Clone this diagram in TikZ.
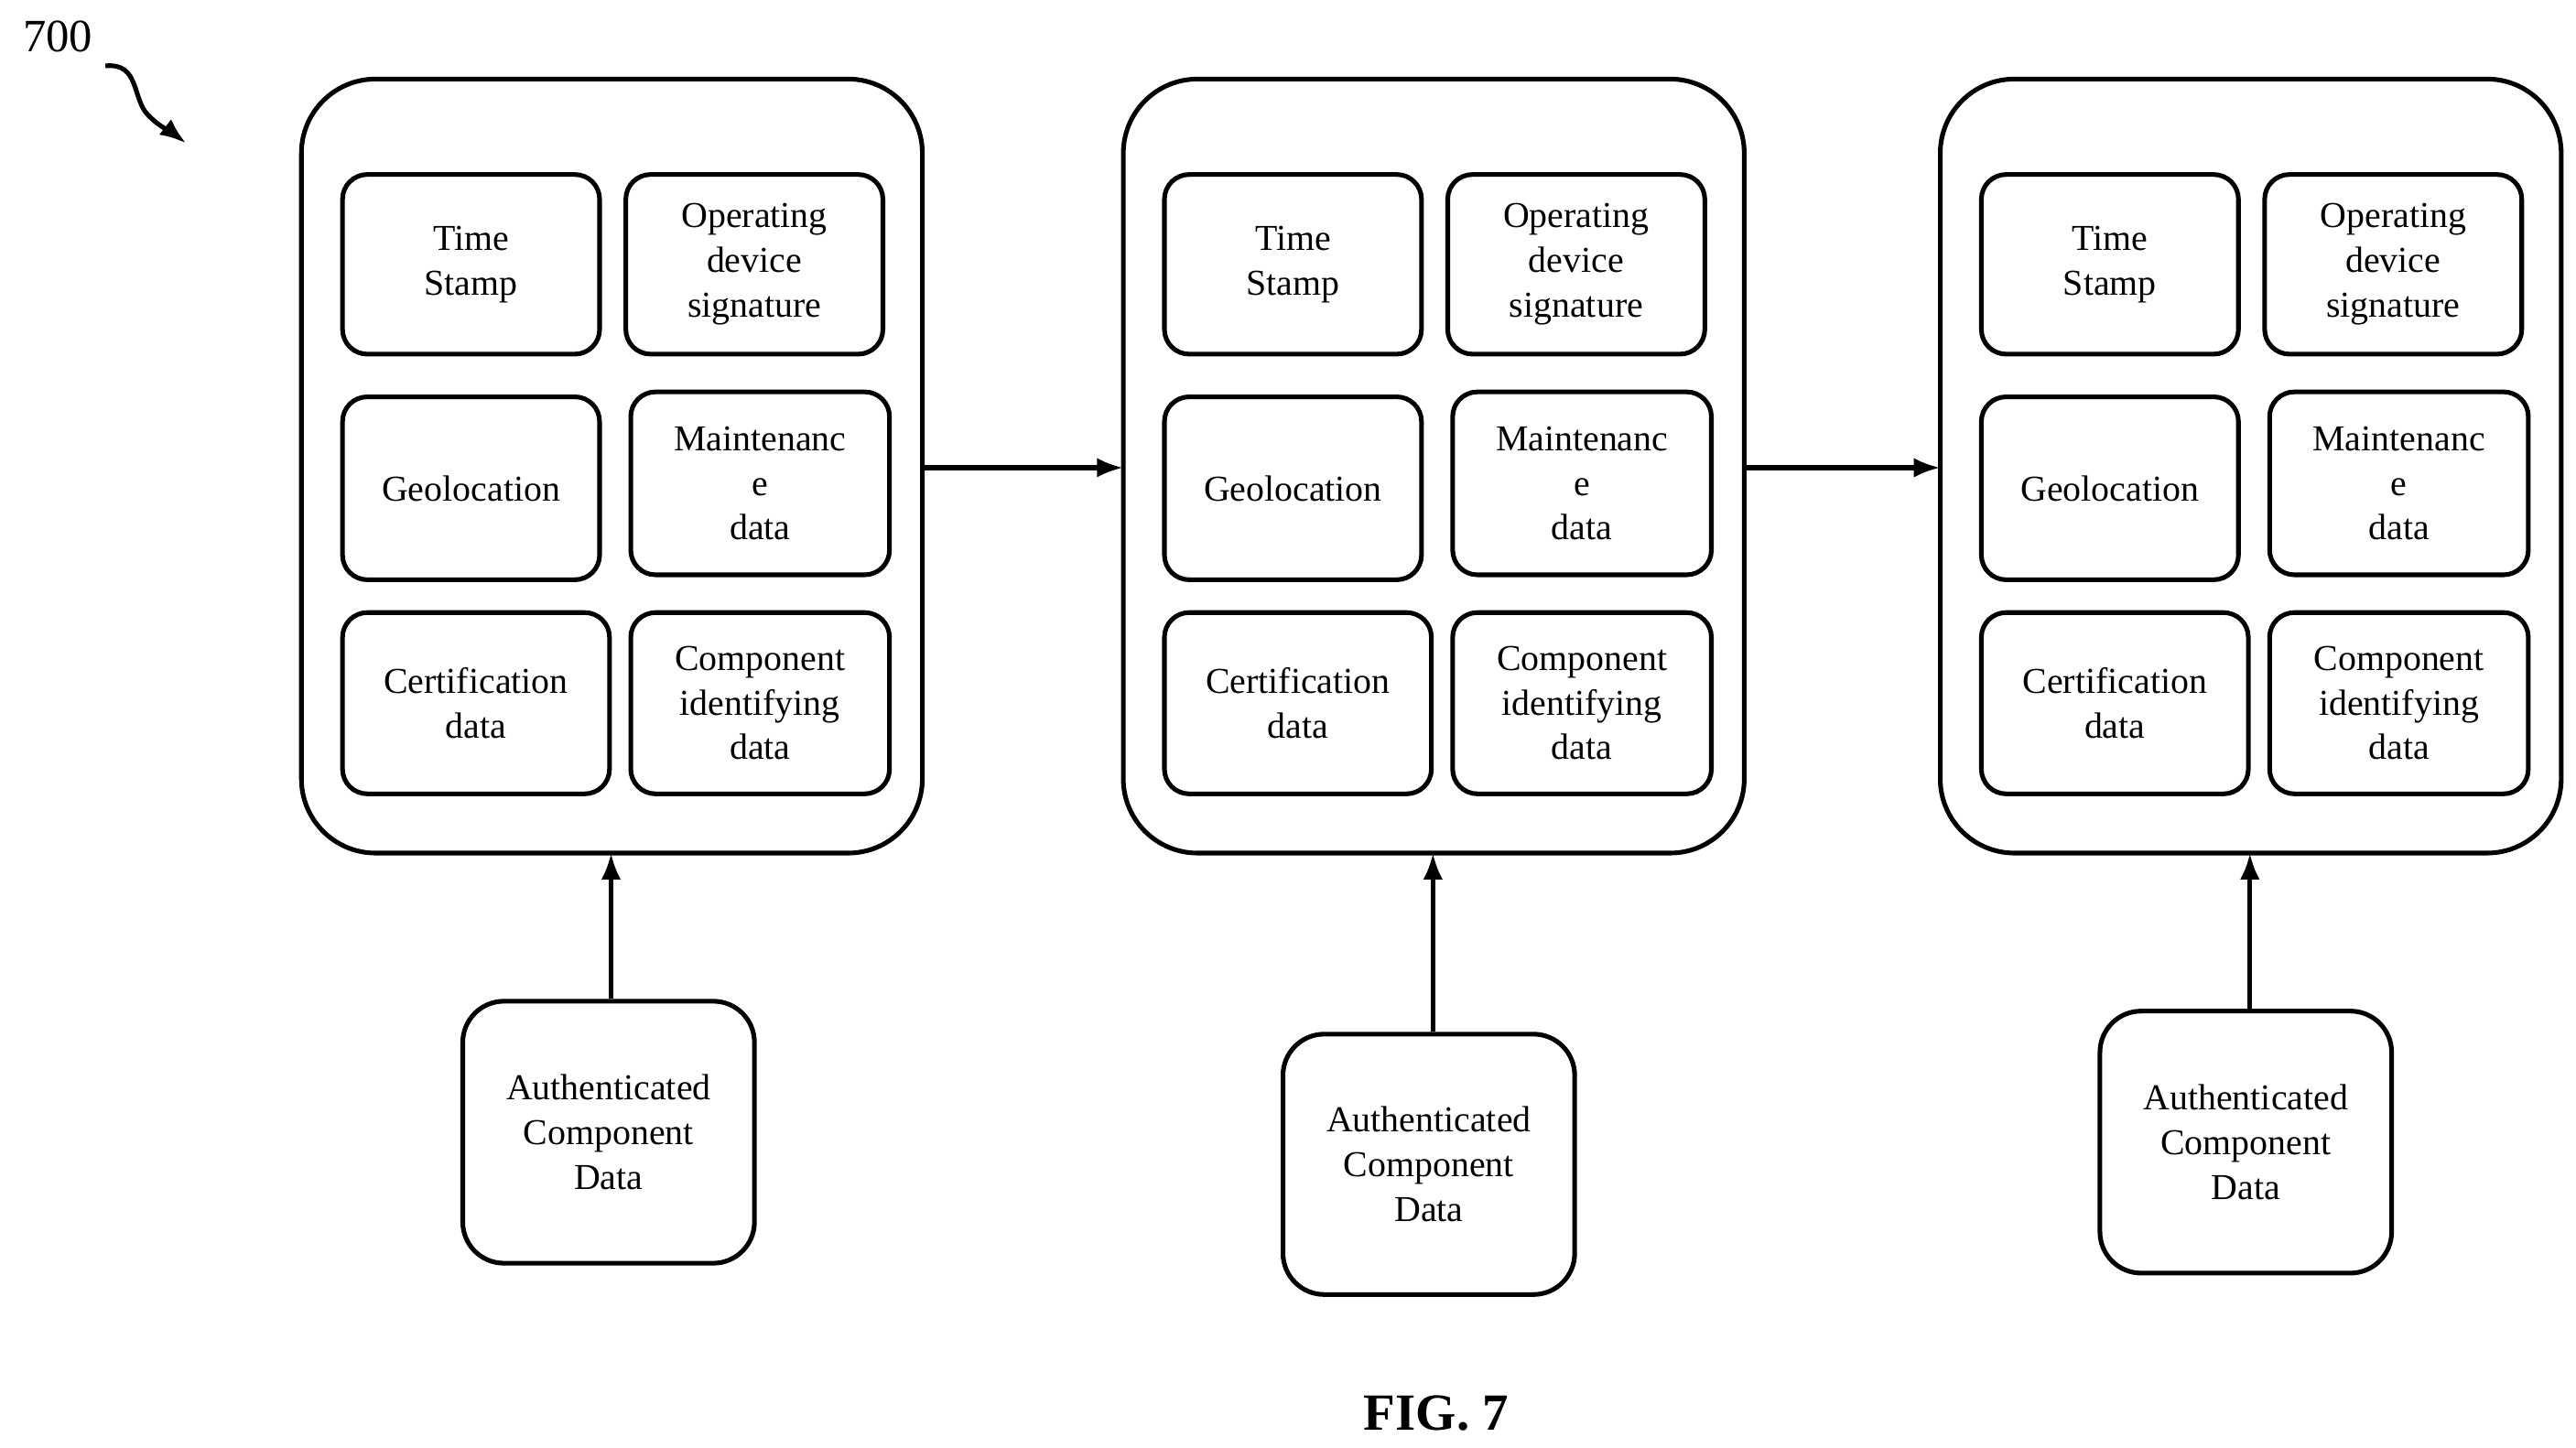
\documentclass[tikz,border=0pt]{standalone}
\usepackage{fontspec}
\setmainfont{Liberation Serif}
\usetikzlibrary{positioning,calc,arrows.meta,decorations.pathmorphing}
\tikzset{
  blk/.style={draw, line width=0.8pt, rounded corners=0.45cm},
  cell/.style={draw, line width=0.8pt, rounded corners=0.15cm, align=center,
    font=\fontsize{6.3}{7.7}\selectfont, inner sep=0pt},
  link/.style={-{Latex[length=1.6mm,width=1.2mm]}, line width=0.8pt}
}
\begin{document}
\begin{tikzpicture}[x=0.01cm,y=-0.01cm]
\useasboundingbox (0,0) rectangle (1564,879);
% label and pointer
\node[font=\fontsize{8}{9}\selectfont] (lbl) at (35,22) {700};
\coordinate (tip) at (113,87);
\draw[link] (64,40) .. controls (85,38) and (80,60) .. (90,70) .. controls (98,78) and (104,80) .. (tip);
% three record blocks
\foreach \i/\dx in {1/0,2/499,3/995}{
  \draw[blk] (183+\dx,48) rectangle (560+\dx,518);
  \coordinate (b\i w) at (183+\dx,284);
  \coordinate (b\i e) at (560+\dx,284);
  \coordinate (b\i s) at (371+\dx,518);
  \node[cell, minimum width=1.56cm, minimum height=1.09cm] (ts\i) at (286+\dx,160.5) {Time\\Stamp};
  \node[cell, minimum width=1.56cm, minimum height=1.09cm] (op\i) at (458+\dx,160.5) {Operating\\device\\signature};
  \node[cell, minimum width=1.56cm, minimum height=1.11cm] (geo\i) at (286+\dx,296.5) {Geolocation};
  \node[cell, minimum width=1.57cm, minimum height=1.11cm] (mt\i) at (461.5+\dx,293.5) {Maintenanc\\e\\data};
  \node[cell, minimum width=1.62cm, minimum height=1.10cm] (cert\i) at (289+\dx,427) {Certification\\data};
  \node[cell, minimum width=1.57cm, minimum height=1.10cm] (comp\i) at (461.5+\dx,427) {Component\\identifying\\data};
}
% authenticated component data
\node[cell, minimum width=1.77cm, minimum height=1.59cm, rounded corners=0.25cm] (acd1) at (369.5,687.5) {Authenticated\\Component\\Data};
\node[cell, minimum width=1.77cm, minimum height=1.58cm, rounded corners=0.25cm] (acd2) at (867.5,707) {Authenticated\\Component\\Data};
\node[cell, minimum width=1.77cm, minimum height=1.59cm, rounded corners=0.25cm] (acd3) at (1363.5,693.5) {Authenticated\\Component\\Data};
% connectors
\draw[link] (b1e) -- (b2w);
\draw[link] (b2e) -- (b3w);
\foreach \i in {1,2,3}
  \draw[link] (acd\i.north -| b\i s) -- (b\i s);
\node[font=\bfseries\fontsize{9}{10}\selectfont] (fig) at (872,858) {FIG. 7};
\end{tikzpicture}
\end{document}
